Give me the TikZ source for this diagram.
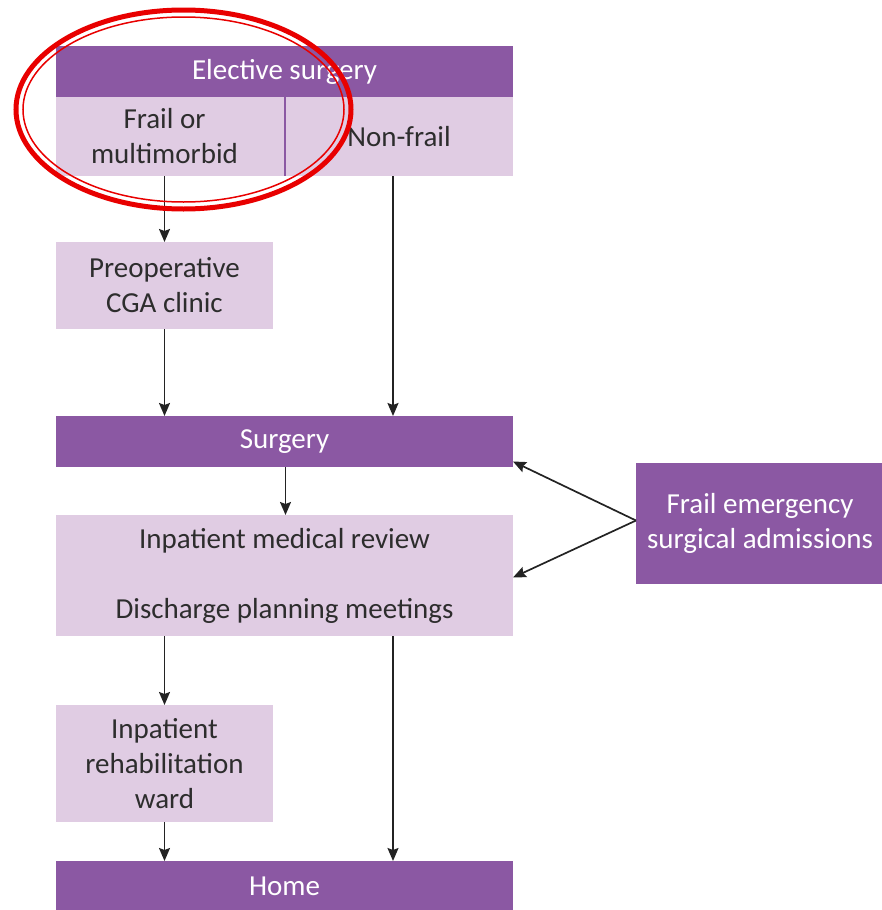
\documentclass[tikz,border=0pt]{standalone}
\usepackage{fontspec}
\setmainfont{Carlito}
\usetikzlibrary{arrows.meta}
\definecolor{darkpurple}{RGB}{139,88,163}
\definecolor{lightpurple}{RGB}{224,204,227}
\definecolor{inktext}{RGB}{45,45,45}
\definecolor{linegray}{RGB}{35,35,35}
\definecolor{markred}{RGB}{232,0,0}
\begin{document}
\begin{tikzpicture}[x=1pt,y=-1pt,
  every node/.style={inner sep=0pt, outer sep=0pt, align=center,
    font=\fontsize{29}{35}\selectfont},
  darkbox/.style={fill=darkpurple, text=white, anchor=north west},
  lightbox/.style={fill=lightpurple, text=inktext, anchor=north west},
  flow/.style={draw=linegray, line width=1.7pt,
    -{Stealth[length=13pt,width=11pt,inset=2pt]}}]
\useasboundingbox (0,0) rectangle (881,910);

% header and the two entry groups
\node[darkbox, minimum width=457pt, minimum height=51pt] (elective) at (56,46) {Elective surgery};
\node[lightbox, minimum width=229pt, minimum height=79pt] (frail) at (56,97) {Frail or\hspace*{12pt}\\multimorbid\hspace*{12pt}};
\node[lightbox, minimum width=228pt, minimum height=79pt] (nonfrail) at (285,97) {Non-frail};
\draw[darkpurple, line width=1.2pt] (frail.north east) -- (frail.south east);

% pathway boxes
\node[lightbox, minimum width=217pt, minimum height=87pt] (prep) at (56,242) {Preoperative\\CGA clinic};
\node[darkbox, minimum width=457pt, minimum height=51pt] (surgery) at (56,416) {Surgery};
\node[lightbox, minimum width=457pt, minimum height=121pt] (review) at (56,515) {Inpatient medical review\\[35pt]Discharge planning meetings};
\node[darkbox, minimum width=248pt, minimum height=121pt] (emergency) at (636,463) {Frail emergency\\surgical admissions};
\node[lightbox, minimum width=217pt, minimum height=117pt] (rehab) at (56,705) {Inpatient\\rehabilitation\\ward};
\node[darkbox, minimum width=457pt, minimum height=51pt] (home) at (56,861) {Home};

% connectors
\draw[flow] (prep.north |- frail.south) -- (prep.north);
\draw[flow] (prep.south) -- (prep.south |- surgery.north);
\draw[flow] ([xshift=-6pt]nonfrail.south) -- ([xshift=-6pt]nonfrail.south |- surgery.north);
\draw[flow] ([xshift=1pt]surgery.south) -- ([xshift=1pt]surgery.south |- review.north);
\draw[flow] (rehab.north |- review.south) -- (rehab.north);
\draw[flow] (rehab.south) -- (rehab.south |- home.north);
\draw[flow] ([xshift=-6pt]nonfrail.south |- review.south) -- ([xshift=-6pt]nonfrail.south |- home.north);
\coordinate (emsrc) at ([yshift=3pt]emergency.west);
\draw[flow] (emsrc) -- ([yshift=-20pt]surgery.east);
\draw[flow] (emsrc) -- ([yshift=-2pt]review.east);

% red highlight ring
\draw[markred, line width=5pt] (183.5,109.5) ellipse [x radius=167.5, y radius=99.5];
\draw[markred, line width=1.5pt] (183.5,109.5) ellipse [x radius=160.5, y radius=92.5];
\end{tikzpicture}
\end{document}
